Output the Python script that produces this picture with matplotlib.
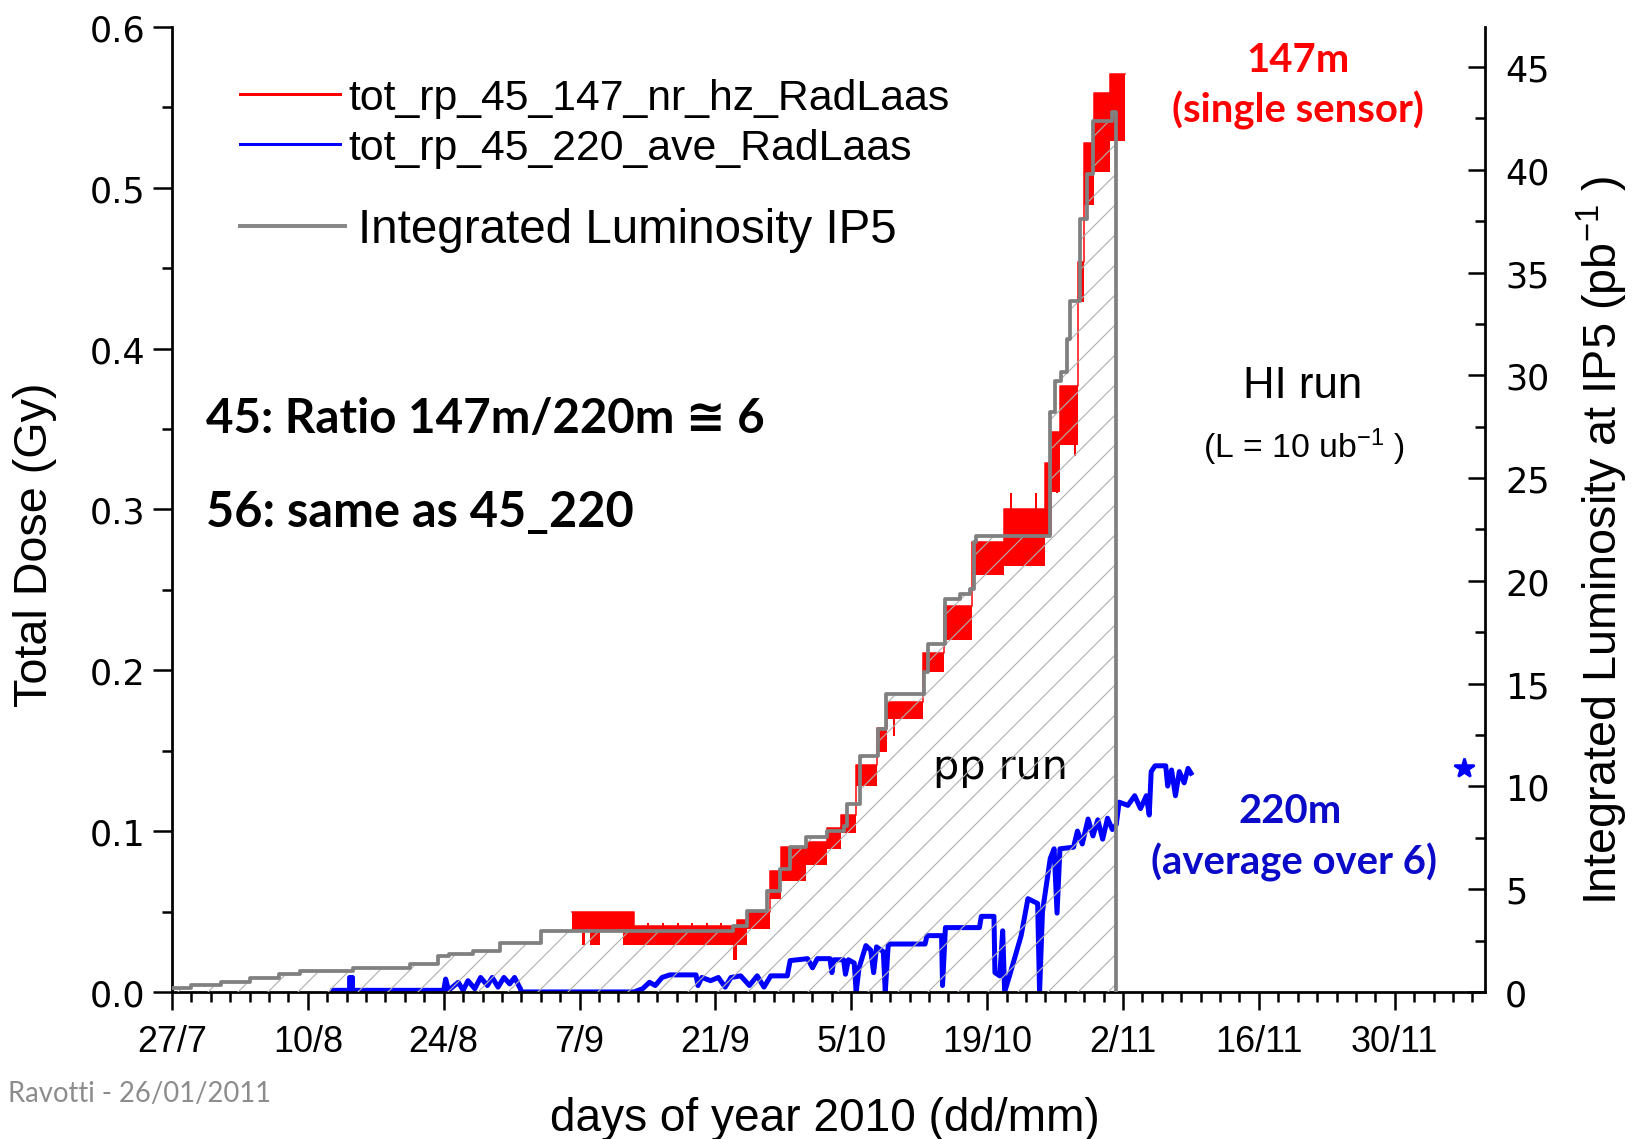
import matplotlib
matplotlib.use('Agg')
import matplotlib.pyplot as plt
from matplotlib.lines import Line2D
from matplotlib.ticker import MultipleLocator

plt.rcParams['font.family'] = ['Liberation Sans', 'DejaVu Sans']
plt.rcParams['mathtext.default'] = 'regular'
plt.rcParams['hatch.linewidth'] = 0.45

# x axis: day of year 2010 (27/7 = day 208)
tick_days = [208, 222, 236, 250, 264, 278, 292, 306, 320, 334]
tick_labels = ['27/7', '10/8', '24/8', '7/9', '21/9', '5/10', '19/10', '2/11', '16/11', '30/11']
dose_ticks = [0.0, 0.1, 0.2, 0.3, 0.4, 0.5, 0.6]
lumi_ticks = [0, 5, 10, 15, 20, 25, 30, 35, 40, 45]

# integrated luminosity IP5 (pb^-1), step curve
gray_day = [208.0, 210.0, 213.0, 216.0, 219.0, 221.2, 226.7, 232.5, 235.4, 236.5,
            239.0, 241.8, 246.0, 265.8, 267.3, 269.3, 270.7, 271.7, 273.3, 275.5,
            277.2, 277.6, 278.9, 280.8, 281.6, 285.5, 285.9, 287.7, 289.2, 290.2,
            290.6, 290.9, 298.5, 299.0, 299.6, 300.2, 300.5, 301.6, 302.3, 302.9,
            304.9, 305.25]
gray_lumi = [0.2, 0.35, 0.5, 0.7, 0.85, 1.0, 1.17, 1.36, 1.75, 1.85,
             2.0, 2.38, 2.97, 3.19, 3.95, 4.93, 5.98, 7.04, 7.52, 7.85,
             8.09, 9.14, 11.48, 12.79, 14.49, 15.55, 16.93, 19.11, 19.36, 19.6,
             21.87, 22.2, 28.2, 29.73, 30.14, 31.76, 33.62, 37.6, 39.79, 42.38,
             42.79, 0.0]

# 147m single sensor dose (Gy): noisy band, low / high envelope
red_day = [249.2, 250.2, 250.6, 251.1, 252.1, 254.5, 255.6, 265.8, 266.2, 267.3,
           269.6, 270.8, 273.3, 275.5, 276.9, 278.5, 280.6, 281.7, 285.4, 287.6,
           290.4, 293.7, 298.0, 298.7, 299.5, 301.4, 302.0, 303.0, 304.7, 306.2]
red_hi = [0.050, 0.050, 0.050, 0.050, 0.050, 0.050, 0.041, 0.041, 0.045, 0.050,
          0.075, 0.090, 0.093, 0.102, 0.110, 0.141, 0.164, 0.180, 0.211, 0.240,
          0.280, 0.300, 0.329, 0.348, 0.377, 0.454, 0.528, 0.559, 0.571, 0.571]
red_lo = [0.038, 0.029, 0.038, 0.029, 0.038, 0.029, 0.029, 0.020, 0.029, 0.039,
          0.058, 0.069, 0.079, 0.089, 0.099, 0.128, 0.149, 0.170, 0.199, 0.219,
          0.259, 0.265, 0.284, 0.311, 0.340, 0.429, 0.489, 0.510, 0.529, 0.529]
red_spk_day = [257.0, 258.6, 260.1, 261.6, 263.1, 264.6, 282.4, 294.5, 297.0, 299.2, 301.1]
red_spk_lo = [0.041, 0.041, 0.041, 0.041, 0.041, 0.041, 0.159, 0.300, 0.300, 0.310, 0.333]
red_spk_hi = [0.043, 0.043, 0.043, 0.043, 0.043, 0.043, 0.170, 0.310, 0.310, 0.329, 0.345]

# 220m average dose (Gy)
blue_day = [224.6, 226.3, 226.3, 226.6, 226.6, 236.0, 236.2, 236.5, 237.5, 238.0,
            238.5, 239.2, 239.8, 240.5, 241.0, 241.6, 242.2, 242.8, 243.3, 243.9,
            244.0, 255.6, 256.5, 257.2, 257.8, 258.5, 259.3, 262.0, 262.2, 262.6,
            263.5, 264.3, 265.0, 265.6, 266.6, 267.5, 268.3, 269.0, 269.7, 271.4,
            271.7, 273.5, 274.0, 274.5, 275.8, 276.0, 276.2, 277.2, 277.4, 277.7,
            278.3, 278.5, 278.8, 279.5, 280.0, 280.3, 280.6, 281.3, 281.5, 281.8,
            282.0, 285.6, 285.8, 287.3, 287.4, 287.7, 291.2, 291.4, 292.7, 292.8,
            293.3, 293.6, 293.8, 294.3, 295.5, 296.2, 297.2, 297.4, 297.7, 298.5,
            298.9, 299.2, 299.5, 300.9, 301.3, 301.8, 302.4, 302.9, 303.4, 303.9,
            304.4, 304.9, 305.3, 305.6, 306.5, 307.2, 307.8, 308.4, 308.7, 308.9,
            309.3, 310.4, 310.6, 311.0, 311.4, 311.8, 312.3, 312.7, 313.0]
blue_dose = [0.001, 0.001, 0.009, 0.009, 0.001, 0.001, 0.008, 0.001, 0.006, 0.001,
             0.007, 0.002, 0.009, 0.004, 0.009, 0.003, 0.009, 0.005, 0.009, 0.002,
             0.0, 0.0, 0.002, 0.006, 0.004, 0.009, 0.0106, 0.0106, 0.004, 0.009,
             0.007, 0.009, 0.003, 0.009, 0.010, 0.004, 0.010, 0.003, 0.010, 0.010,
             0.0195, 0.0207, 0.015, 0.0207, 0.0207, 0.012, 0.020, 0.020, 0.011, 0.020,
             0.018, 0.0, 0.015, 0.0288, 0.026, 0.012, 0.028, 0.025, 0.0, 0.029,
             0.0298, 0.0298, 0.035, 0.035, 0.004, 0.040, 0.040, 0.047, 0.047, 0.012,
             0.010, 0.038, 0.0, 0.010, 0.035, 0.058, 0.055, 0.0, 0.050, 0.083,
             0.089, 0.049, 0.089, 0.090, 0.100, 0.092, 0.1075, 0.097, 0.107, 0.095,
             0.108, 0.101, 0.104, 0.118, 0.116, 0.122, 0.114, 0.122, 0.110, 0.137,
             0.1406, 0.1406, 0.128, 0.138, 0.122, 0.137, 0.130, 0.139, 0.136]
star_day = [341.1]
star_dose = [0.139]

fig = plt.figure(figsize=(9.1, 6.3333), dpi=180)
ax = fig.add_axes([0.105, 0.129, 0.8016, 0.8465])
ax2 = ax.twinx()

ax.fill_between(red_day, red_lo, red_hi, step='post', color='#ff0000', linewidth=0)
ax.step(red_day, red_hi, where='post', color='#ff0000', lw=0.6)
ax.vlines(red_spk_day, red_spk_lo, red_spk_hi, color='#ff0000', lw=0.8)
ax.plot(blue_day, blue_dose, color='#0000ff', lw=2.0)
ax.plot(star_day, star_dose, marker='*', color='#0000ff', ms=8, ls='none')

ax2.fill_between(gray_day, 0, gray_lumi, step='post', facecolor='none',
                 edgecolor='#b0b0b0', hatch='//', linewidth=0)
ax2.step(gray_day, gray_lumi, where='post', color='#808080', lw=1.5)

ax.set_xlim(208, 343.3)
ax.set_ylim(0, 0.6)
ax2.set_ylim(0, 46.95)

ax.set_xticks(tick_days)
ax.set_xticklabels(tick_labels)
ax.xaxis.set_minor_locator(MultipleLocator(2))
ax.set_yticks(dose_ticks)
ax.set_yticklabels(['%.1f' % v for v in dose_ticks], fontfamily='DejaVu Sans')
ax.yaxis.set_minor_locator(MultipleLocator(0.05))
ax2.set_yticks(lumi_ticks)
ax2.set_yticklabels([str(v) for v in lumi_ticks], fontfamily='DejaVu Sans')
ax2.yaxis.set_minor_locator(MultipleLocator(2.5))

ax.tick_params(axis='x', which='major', direction='out', length=7, width=1.0, pad=6, labelsize=14.4)
ax.tick_params(axis='x', which='minor', direction='out', length=4, width=1.0)
ax.tick_params(axis='y', which='major', direction='out', length=7.5, width=1.0, pad=3, labelsize=14)
ax.tick_params(axis='y', which='minor', direction='out', length=4, width=1.0)
ax2.tick_params(axis='y', which='major', direction='in', length=7, width=1.0, pad=8, labelsize=14)
ax2.tick_params(axis='y', which='minor', direction='in', length=4, width=1.0)

for s in ['top', 'right']:
    ax.spines[s].set_visible(False)
for s in ['top', 'left', 'bottom']:
    ax2.spines[s].set_visible(False)
ax.spines['left'].set_linewidth(1.1)
ax.spines['bottom'].set_linewidth(1.1)
ax2.spines['right'].set_linewidth(1.1)

ax.set_ylabel('Total Dose (Gy)', fontsize=18.7)
ax.yaxis.set_label_coords(-0.0876, 0.464)
ax2.set_ylabel('Integrated Luminosity at IP5 (pb$^{-1}$ )', fontsize=18.7)
ax2.yaxis.set_label_coords(1.0685, 0.469)
ax.set_xlabel('days of year 2010 (dd/mm)', fontsize=18.4)
ax.xaxis.set_label_coords(0.497, -0.108)

h1 = [Line2D([], [], color='#ff0000', lw=1.2), Line2D([], [], color='#0000ff', lw=1.2)]
leg1 = ax2.legend(h1, ['tot_rp_45_147_nr_hz_RadLaas', 'tot_rp_45_220_ave_RadLaas'],
                  loc='upper left', bbox_to_anchor=(0.052, 0.947), frameon=False,
                  fontsize=17.1, handlelength=2.33, handletextpad=0.2, borderpad=0,
                  borderaxespad=0, labelspacing=0.24)
ax2.add_artist(leg1)
ax2.legend([Line2D([], [], color='#888888', lw=1.6)], ['Integrated Luminosity IP5'],
           loc='upper left', bbox_to_anchor=(0.052, 0.813), frameon=False,
           fontsize=19, handlelength=2.2, handletextpad=0.28, borderpad=0,
           borderaxespad=0)

bold = dict(family=['Lato', 'DejaVu Sans'], fontweight='bold')
ax.text(211.5, 0.357, '45: Ratio 147m/220m \u2245 6', fontsize=19, ha='left', va='center', **bold)
ax.text(211.5, 0.299, '56: same as 45_220', fontsize=19.5, ha='left', va='center', **bold)
ax.text(324.0, 0.580, '147m', fontsize=16, color='#ff0000', ha='center', va='center', **bold)
ax.text(324.0, 0.549, '(single sensor)', fontsize=16, color='#ff0000', ha='center', va='center', **bold)
ax.text(323.2, 0.1127, '220m', fontsize=16, color='#0a0ac8', ha='center', va='center', **bold)
ax.text(323.6, 0.0809, '(average over 6)', fontsize=16, color='#0a0ac8', ha='center', va='center', **bold)
ax.text(324.5, 0.377, 'HI run', fontsize=17.5, ha='center', va='center')
ax.text(324.6, 0.339, '(L = 10 ub$^{-1}$ )', fontsize=13.5, ha='center', va='center')
ax.text(293.4, 0.140, 'pp run', fontsize=16.5, ha='center', va='center', family='DejaVu Sans')

fig.text(0.005, 0.040, 'Ravotti - 26/01/2011', fontsize=11, color='#8c8c8c',
         ha='left', va='center', family=['Lato', 'DejaVu Sans'])

fig.savefig('out.png', dpi=180)
